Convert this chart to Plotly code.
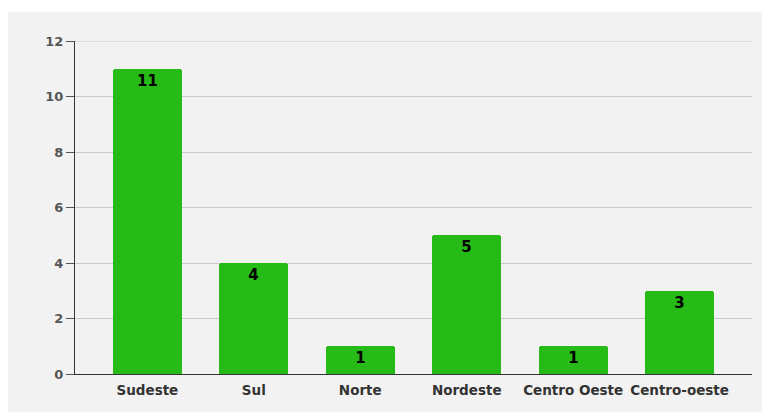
import plotly.graph_objects as go

categories = ["Sudeste", "Sul", "Norte", "Nordeste", "Centro Oeste", "Centro-oeste"]
values = [11, 4, 1, 5, 1, 3]
y_ticks = [0, 2, 4, 6, 8, 10, 12]

fig = go.Figure(go.Bar(
    x=categories, y=values, text=[str(v) for v in values],
    textposition="inside", insidetextanchor="end", textangle=0,
    constraintext="none",
    textfont=dict(family="DejaVu Sans", size=15, color="black", weight="bold"),
    marker=dict(color="#26bb17", line=dict(width=0), cornerradius=3),
    width=0.65, hoverinfo="skip",
))

W, H = 762, 412
l, r, t, b = 75, 10, 41, 38
pw, ph = W - l - r, H - t - b

fig.add_shape(type="rect", xref="paper", yref="paper", layer="below",
              x0=(8 - l) / pw, x1=(W + 5 - l) / pw,
              y0=-(H + 5 - (H - b)) / ph, y1=((H - b) - 12) / ph,
              fillcolor="#f2f2f2", line=dict(width=0))
# top gridline at the maximum tick
fig.add_shape(type="line", xref="paper", yref="y", layer="below",
              x0=0, x1=1, y0=y_ticks[-1], y1=y_ticks[-1],
              line=dict(color="#c8c8c8", width=1))

fig.update_layout(
    width=W, height=H, margin=dict(l=l, r=r, t=t, b=b),
    paper_bgcolor="white", plot_bgcolor="rgba(0,0,0,0)",
    showlegend=False, bargap=0,
    font=dict(family="DejaVu Sans", color="#555555"),
)
fig.update_xaxes(range=[-0.68, 5.68], showgrid=False, showline=True,
                 linecolor="#333333", linewidth=1, ticks="",
                 ticklabelstandoff=4,
                 tickfont=dict(size=13.5, color="#333333", weight="bold"),
                 fixedrange=True)
fig.update_yaxes(range=[0, 12], tickvals=y_ticks, showgrid=True,
                 gridcolor="#c8c8c8", gridwidth=1, showline=True,
                 linecolor="#333333", linewidth=1, ticks="outside",
                 ticklen=8, tickcolor="#555555", zeroline=False,
                 tickfont=dict(size=13, color="#555555", weight="bold"),
                 fixedrange=True)

fig.write_html("out.html", config={"displayModeBar": False})
